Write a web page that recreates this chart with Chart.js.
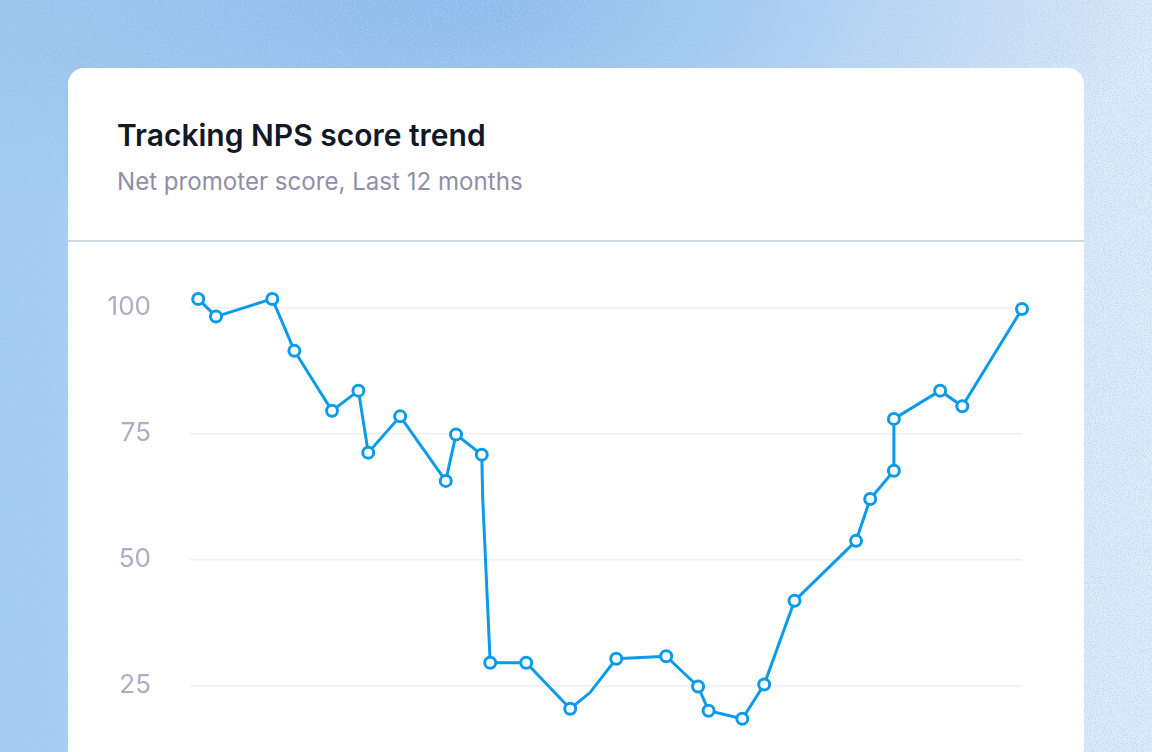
<!DOCTYPE html>
<html lang="en">
<head>
<meta charset="UTF-8">
<title>Tracking NPS score trend</title>
<script src="https://cdn.jsdelivr.net/npm/chart.js@4.4.1/dist/chart.umd.min.js"></script>
<style>
  html, body { margin: 0; padding: 0; width: 1152px; height: 752px; overflow: hidden; }
  body {
    font-family: Inter, "Noto Sans", sans-serif;
    background:
      radial-gradient(ellipse 700px 260px at 40% 0%, rgba(120,176,232,0.75), rgba(120,176,232,0) 100%),
      linear-gradient(90deg, #a5cbef 0%, #bcd8f3 45%, #d6e6f7 75%, #e1ecf8 100%);
    position: relative;
  }
  .grain {
    position: absolute; inset: 0; opacity: 0.7;
    background-image: url("data:image/svg+xml;utf8,%3Csvg xmlns='http://www.w3.org/2000/svg' width='300' height='300'%3E%3Cfilter id='n'%3E%3CfeTurbulence type='fractalNoise' baseFrequency='0.85' numOctaves='2' stitchTiles='stitch'/%3E%3CfeColorMatrix values='0 0 0 0 0.42  0 0 0 0 0.63  0 0 0 0 0.9  0 0 0 3 -1.3'/%3E%3C/filter%3E%3Crect width='300' height='300' filter='url(%23n)'/%3E%3C/svg%3E");
  }
  .card {
    position: absolute; left: 68px; top: 68px; width: 1016px; height: 800px;
    background: #fff; border-radius: 16px; overflow: hidden;
  }
  .head { position: absolute; left: 0; top: 0; width: 100%; height: 174px; border-bottom: 2px solid #cfd8e2; box-sizing: border-box; }
  h1 { position: absolute; left: 49px; top: 48px; margin: 0; font-size: 30px; line-height: 38px; font-weight: 600; color: #111827; }
  .sub { position: absolute; left: 49px; top: 99px; font-size: 24.1px; line-height: 30px; color: #918ea6; }
  .wrap { position: absolute; left: 0; top: 174px; width: 1016px; height: 600px; }
</style>
</head>
<body>
<div class="grain"></div>
<div class="card">
  <div class="head">
    <h1>Tracking NPS score trend</h1>
    <div class="sub">Net promoter score, Last 12 months</div>
  </div>
  <div class="wrap"><canvas id="chart"></canvas></div>
</div>

<script>
// day of the 12-month window and NPS value
const days = [3.6, 11.4, 36.1, 45.8, 62.3, 73.9, 78.2, 92.2, 112.2, 116.7, 128.0, 128.4, 131.7, 147.5,
              166.8, 175.5, 187.0, 208.9, 222.9, 227.5, 242.3, 251.9, 265.2, 292.2, 298.4, 308.8, 308.8,
              329.1, 338.8, 365];
const scores = [101.7, 98.2, 101.7, 91.4, 79.5, 83.5, 71.2, 78.4, 65.6, 74.8, 70.8, 62.3, 29.5, 29.5,
                20.4, 23.6, 30.3, 30.8, 24.8, 20.0, 18.4, 25.2, 41.8, 53.7, 62.0, 67.6, 77.9,
                83.5, 80.4, 99.7];
// points drawn without a marker
const hiddenMarkers = [11, 15];
const yTicks = [25, 50, 75, 100];

const blue = '#0b9be8';

new Chart(document.getElementById('chart'), {
  type: 'line',
  data: {
    datasets: [{
      data: days.map((d, i) => ({ x: d, y: scores[i] })),
      borderColor: blue,
      borderWidth: 3,
      pointBackgroundColor: '#fff',
      pointBorderColor: blue,
      pointBorderWidth: 3,
      pointRadius: days.map((d, i) => hiddenMarkers.includes(i) ? 0 : 5.5),
      pointHoverRadius: 5.5,
      tension: 0,
      clip: false
    }]
  },
  options: {
    responsive: true,
    maintainAspectRatio: false,
    animation: false,
    layout: { padding: { top: 40.3, right: 62, bottom: 30.5, left: 0 } },
    plugins: { legend: { display: false }, tooltip: { enabled: false } },
    scales: {
      x: { type: 'linear', min: 0, max: 365, display: false },
      y: {
        min: 0, max: 105,
        border: { display: false },
        // invisible tick marks push the labels away from the plot
        grid: { color: '#eef0f4', lineWidth: 1.5, drawTicks: true, tickLength: 39, tickColor: 'rgba(0,0,0,0)' },
        afterBuildTicks: s => { s.ticks = yTicks.map(v => ({ value: v })); },
        afterFit: s => { s.width = 122; },
        ticks: {
          padding: 0,
          color: '#aeacc2',
          font: { family: 'Inter', size: 26 }
        }
      }
    }
  }
});
</script>
</body>
</html>
